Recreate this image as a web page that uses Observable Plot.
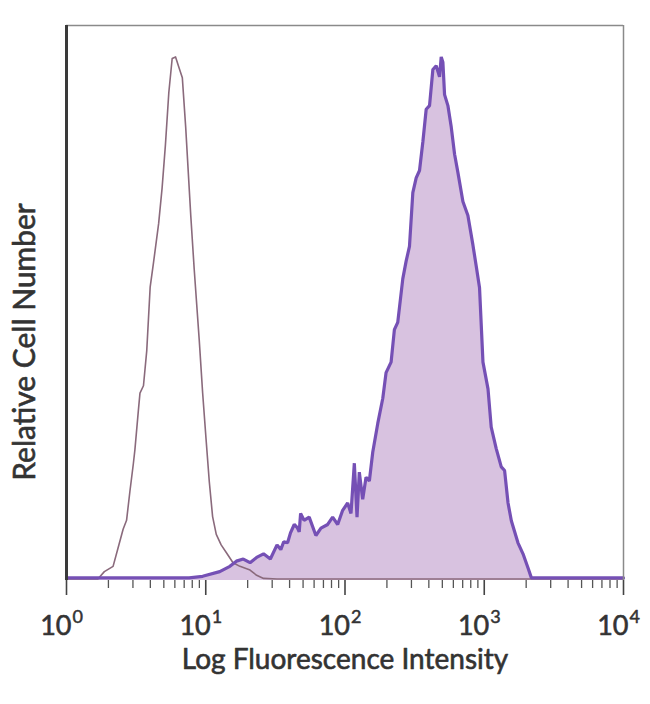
<!DOCTYPE html>
<html>
<head>
<meta charset="utf-8">
<script src="https://cdn.jsdelivr.net/npm/d3@7"></script>
<script src="https://cdn.jsdelivr.net/npm/@observablehq/plot@0.6"></script>
<style>
  html, body { margin: 0; padding: 0; background: #fff; }
  #chart svg { display: block; }
</style>
</head>
<body>
<div id="chart"></div>
<script>
// ---- Data ----
const xTitle = "Log Fluorescence Intensity";
const yTitle = "Relative Cell Number";
const tickExponents = [0, 1, 2, 3, 4];
const minorTicks = [2,3,4,5,6,7,8,9,20,30,40,50,60,70,80,90,200,300,400,500,600,700,800,900,2000,3000,4000,5000,6000,7000,8000,9000];

// Isotype control histogram (open outline)
const ctrlX = [1, 1.68, 1.87, 2.16, 2.34, 2.55, 2.70, 2.85, 3.02, 3.10, 3.28, 3.37, 3.57, 3.77, 3.99, 4.22, 4.59, 4.86, 5.13, 5.43, 5.74, 6.07, 6.42, 6.79, 7.18, 7.81, 8.26, 8.98, 9.50, 10.05, 10.6, 11.2, 11.9, 12.9, 14.0, 15.7, 17.6, 20.8, 23.2, 26.0, 32.5, 100, 1000, 10000];
const ctrlY = [0.3, 0.3, 1.7, 2.7, 6.1, 9.8, 11.5, 16.9, 22.3, 25.0, 32.4, 35.8, 37.2, 43.9, 56.1, 60.8, 68.2, 75.0, 83.1, 93.2, 99.7, 100, 98, 96, 86.5, 69.6, 59.5, 45.9, 35.8, 27.0, 18.9, 12.2, 8.8, 6.8, 5.4, 3.4, 2.7, 2.0, 1.0, 0.4, 0.3, 0.3, 0.3, 0.3];

// Stained sample histogram (filled)
const stainX = [1, 4, 7.6, 9.5, 12.6, 14.9, 16.6, 18.6, 20.8, 23.2, 26.0, 29.1, 32.5, 34.6, 36.3, 38.7, 40.6, 43.2, 45.4, 46.9, 48.0, 50.8, 55.3, 61.8, 67.2, 75.1, 81.5, 88.6, 96.2, 104.5, 110.4, 116.7, 122, 126.7, 134, 141.6, 149.6, 158.2, 171.9, 186.8, 197.2, 214.3, 226.3, 239.2, 260, 274.8, 290.4, 307, 324.5, 342.9, 362.4, 382.9, 404.6, 427.6, 451.8, 477.5, 490.8, 504.6, 518.8, 548.2, 579.4, 612.3, 647.1, 702.5, 763.1, 829, 876, 925, 979, 1064, 1122, 1219, 1325, 1400, 1482, 1565, 1653, 1746, 1898, 2063, 2180, 10000];
const stainY = [0.5, 0.5, 0.5, 0.8, 1.7, 2.7, 3.7, 4.1, 3.4, 4.4, 5.1, 4.1, 6.8, 5.9, 7.4, 7.2, 9.1, 10.7, 10.1, 9.3, 12.8, 11.5, 12.1, 8.6, 10.0, 10.7, 12.1, 10.7, 13.4, 14.8, 12.8, 22.4, 12.1, 20.7, 15.5, 19.7, 19.0, 24.5, 30.0, 34.8, 39.7, 41.7, 47.9, 49.3, 57.6, 61.0, 63.8, 74.1, 76.9, 78.3, 83.8, 90.0, 90.7, 97.6, 98.3, 96.2, 100, 99, 92.8, 90.7, 86.6, 81.4, 77.9, 72.4, 69.7, 64.1, 60.0, 55.9, 41.7, 36.6, 29.3, 25.2, 21.7, 21.0, 14.8, 11.4, 9.3, 7.2, 5.1, 2.4, 0.5, 0.5];

const ctrl = ctrlX.map((x, i) => ({x, y: ctrlY[i]}));
const stain = stainX.map((x, i) => ({x, y: stainY[i]}));
const majors = tickExponents.map(e => ({v: Math.pow(10, e), e: String(e)}));

const fontFamily = "Lato, 'Open Sans', sans-serif";
const ink = "#333";

const chart = Plot.plot({
  width: 650,
  height: 704,
  marginLeft: 66,
  marginRight: 27,
  marginTop: 25,
  marginBottom: 124,
  style: {background: "#fff", fontFamily, color: "#3a3a3a"},
  x: {type: "log", domain: [1, 10000]},
  y: {domain: [0, 106], axis: null},
  marks: [
    Plot.areaY(stain, {x: "x", y: "y", fill: "#d8c2e0"}),
    Plot.line(ctrl, {x: "x", y: "y", stroke: "#8a6a7c", strokeWidth: 1.6}),
    Plot.line(stain, {x: "x", y: "y", stroke: "#7550b5", strokeWidth: 3.2, strokeLinejoin: "miter"}),
    // frame: top & right thin gray, left dark
    Plot.ruleY([106], {stroke: "#8a8a8a", strokeWidth: 1.5}),
    Plot.ruleX([10000], {stroke: "#8a8a8a", strokeWidth: 1.5}),
    Plot.ruleX([1], {stroke: "#3a3a3a", strokeWidth: 3}),
    Plot.axisX(minorTicks, {tickSize: 8, tickFormat: () => "", label: null, stroke: "#555", strokeWidth: 1.3}),
    Plot.axisX(majors.map(d => d.v), {tickSize: 15, tickFormat: () => "", label: null, stroke: "#444", strokeWidth: 1.6}),
    Plot.text(majors, {x: "v", text: () => "10", frameAnchor: "bottom", dy: 54, dx: 5, textAnchor: "end", fontSize: 27, fill: ink, stroke: ink, strokeWidth: 0.6}),
    Plot.text(majors, {x: "v", text: "e", frameAnchor: "bottom", dy: 42, dx: 6, textAnchor: "start", fontSize: 18, fill: ink, stroke: ink, strokeWidth: 0.5}),
    Plot.text([xTitle], {frameAnchor: "bottom", dy: 88, fontSize: 28, fill: ink, stroke: ink, strokeWidth: 0.6}),
    Plot.text([yTitle], {frameAnchor: "left", textAnchor: "middle", dx: -41, dy: 39, rotate: -90, fontSize: 30, fill: ink, stroke: ink, strokeWidth: 0.6})
  ]
});
document.getElementById("chart").appendChild(chart);
</script>
</body>
</html>
